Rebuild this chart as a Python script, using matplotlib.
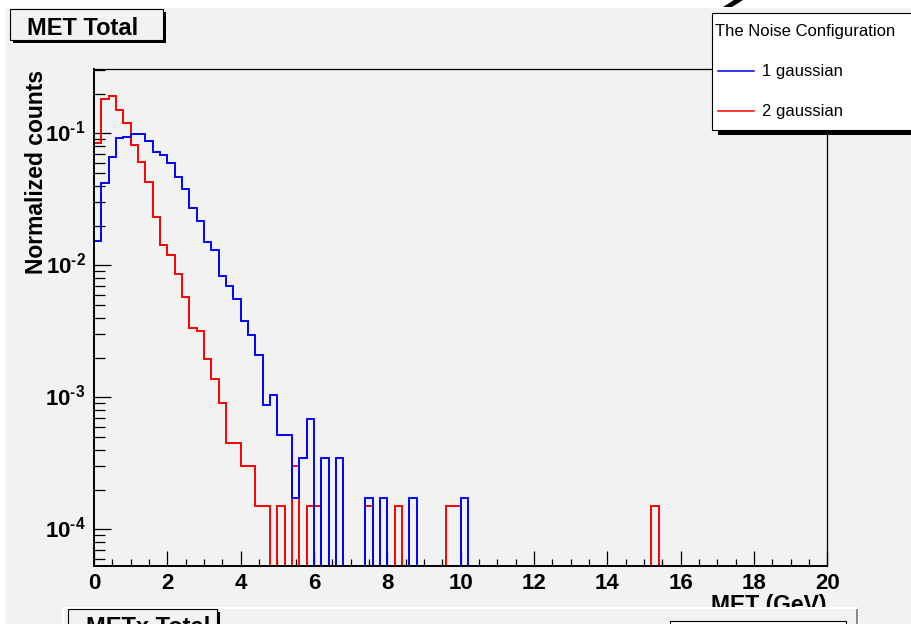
import numpy as np
import matplotlib
matplotlib.use('Agg')
import matplotlib.pyplot as plt
from matplotlib.patches import Rectangle, Polygon
from matplotlib.lines import Line2D
from matplotlib.ticker import MultipleLocator, LogLocator, NullFormatter

plt.rcParams['font.family'] = ['Liberation Sans', 'DejaVu Sans']
plt.rcParams['font.weight'] = 'bold'
plt.rcParams['mathtext.fontset'] = 'custom'
plt.rcParams['mathtext.rm'] = 'Liberation Sans:bold'
plt.rcParams['mathtext.it'] = 'Liberation Sans:bold'
plt.rcParams['mathtext.bf'] = 'Liberation Sans:bold'

# MET spectrum, 100 bins of 0.2 GeV, normalised to unit area
met_edges = np.linspace(0, 20, 101)

one_gaussian = [
    0.0154, 0.0419, 0.0666, 0.0917, 0.0942, 0.0993, 0.0993, 0.0875, 0.0718, 0.0686,
    0.0597, 0.0470, 0.0378, 0.0274, 0.0215, 0.0149, 0.0130, 0.00826, 0.00694, 0.00560,
    0.00378, 0.00296, 0.00209, 8.7e-4, 1.04e-3, 5.2e-4, 5.2e-4, 1.73e-4, 3.47e-4, 6.9e-4,
    0, 3.47e-4, 0, 3.47e-4, 0, 0, 0, 1.73e-4, 0, 1.73e-4,
    0, 0, 0, 1.73e-4, 0, 0, 0, 0, 0, 0,
    1.73e-4] + [0.0] * 49

two_gaussian = [
    0.084, 0.1815, 0.192, 0.149, 0.120, 0.0817, 0.061, 0.0427, 0.0234, 0.01416,
    0.01198, 0.00861, 0.00577, 0.00333, 0.00318, 0.00196, 0.00137, 0.00090, 4.5e-4, 4.5e-4,
    3.0e-4, 3.0e-4, 1.5e-4, 1.5e-4, 0, 1.5e-4, 0, 3.0e-4, 0, 1.5e-4,
    1.5e-4, 0, 0, 0, 0, 0, 0, 1.5e-4, 0, 0,
    0, 1.5e-4, 0, 0, 0, 0, 0, 0, 1.5e-4, 1.5e-4,
    ] + [0.0] * 26 + [1.5e-4] + [0.0] * 23

series_names = ['1 gaussian', '2 gaussian']
series_colors = ['#0000ff', '#ff0000']
y_tick_values = [1e-4, 1e-3, 1e-2, 1e-1]
y_tick_labels = [r'$10^{\text{-4}}$', r'$10^{\text{-3}}$', r'$10^{\text{-2}}$', r'$10^{\text{-1}}$']

W, H = 912, 624
PAD_GRAY = '#f2f2f2'


def fx(px):
    return px / W


def fy(py):
    return 1 - py / H


def box(x0, y0, x1, y1, **kw):
    # rectangle given in pixel coords, origin top-left
    r = Rectangle((fx(x0), fy(y1)), (x1 - x0) / W, (y1 - y0) / H,
                  transform=fig.transFigure, **kw)
    fig.add_artist(r)
    return r


def main():
    global fig
    fig = plt.figure(figsize=(W / 100, H / 100), dpi=100, facecolor='white')

    # canvas pad
    box(5, 8, 940, 660, facecolor=PAD_GRAY, edgecolor='none', zorder=-2)
    fig.add_artist(Polygon([(fx(734), fy(0)), (fx(743), fy(0)), (fx(732), fy(7)), (fx(723), fy(7))],
                           closed=True, transform=fig.transFigure, facecolor='black',
                           edgecolor='none', zorder=-3))

    ax = fig.add_axes([fx(94), fy(566), (827.4 - 94) / W, (566 - 69) / H])
    ax.set_facecolor(PAD_GRAY)

    def floor(v):
        v = np.asarray(v, dtype=float)
        return np.where(v > 0, v, 1e-9)

    ax.stairs(floor(two_gaussian), met_edges, baseline=None, color=series_colors[1], lw=1.4, zorder=2)
    ax.stairs(floor(one_gaussian), met_edges, baseline=None, color=series_colors[0], lw=1.4, zorder=2.1)

    ax.set_yscale('log')
    ax.set_xlim(0, 20)
    ax.set_ylim(5.27e-5, 0.307)

    ax.xaxis.set_major_locator(MultipleLocator(2))
    ax.xaxis.set_minor_locator(MultipleLocator(0.5))
    ax.set_yticks(y_tick_values)
    ax.set_yticklabels(y_tick_labels)
    ax.yaxis.set_minor_locator(LogLocator(base=10, subs=np.arange(2, 10)))
    ax.yaxis.set_minor_formatter(NullFormatter())

    ax.tick_params(axis='x', which='major', direction='in', length=11, width=0.9,
                   labelsize=16, pad=5, top=False)
    ax.tick_params(axis='x', which='minor', direction='in', length=5, width=0.9, top=False)
    ax.tick_params(axis='y', which='major', direction='in', length=12, width=0.9,
                   labelsize=16, pad=6, right=False)
    ax.tick_params(axis='y', which='minor', direction='in', length=8, width=0.9, right=False)
    for lbl in ax.get_yticklabels():
        lbl.set_verticalalignment('center')

    for side in ['left', 'bottom']:
        ax.spines[side].set_linewidth(1.4)
    for side in ['top', 'right']:
        ax.spines[side].set_linewidth(0.9)

    fig.text(fx(36.5), fy(70), 'Normalized counts', rotation=90, ha='center', va='top',
             fontsize=16.5, fontweight='bold')
    fig.text(fx(827), fy(612), 'MET (GeV)', ha='right', va='baseline',
             fontsize=16.5, fontweight='bold')

    # title box with shadow
    box(13, 12, 166, 43, facecolor='black', edgecolor='none', zorder=3)
    box(10, 9, 163, 40, facecolor=PAD_GRAY, edgecolor='black', lw=0.8, zorder=3.1)
    fig.text(fx(27), fy(35), 'MET Total', ha='left', va='baseline', fontsize=17,
             fontweight='bold', zorder=4)

    # legend
    box(718, 18, 960, 135, facecolor='black', edgecolor='none', zorder=3)
    box(711.7, 13.3, 960, 130, facecolor='white', edgecolor='black', lw=0.8, zorder=3.1)
    fig.text(fx(715), fy(36), 'The Noise Configuration', ha='left', va='baseline',
             fontsize=12, fontweight='normal', zorder=4)
    for i, (name, color) in enumerate(zip(series_names, series_colors)):
        yline = 70.5 + 40 * i
        fig.add_artist(Line2D([fx(718), fx(754)], [fy(yline), fy(yline)], color=color, lw=1.1,
                              transform=fig.transFigure, zorder=4))
        fig.text(fx(762), fy(yline + 5.5), name, ha='left', va='baseline', fontsize=12,
                 fontweight='normal', zorder=4)

    # next pad below
    box(62, 606.5, 859, 660, facecolor='white', edgecolor='none', zorder=5)
    box(64, 608.5, 856, 660, facecolor=PAD_GRAY, edgecolor='none', zorder=5.1)
    box(856, 608.5, 858.5, 660, facecolor='#8a8a8a', edgecolor='none', zorder=5.1)
    box(70.5, 611.5, 219.5, 660, facecolor='black', edgecolor='none', zorder=6)
    box(68.3, 609.3, 217.3, 660, facecolor=PAD_GRAY, edgecolor='black', lw=0.8, zorder=6.1)
    fig.text(fx(86), fy(633.5), 'METx Total', ha='left', va='baseline', fontsize=17,
             fontweight='bold', zorder=6.2)
    box(670, 621, 846, 660, facecolor='white', edgecolor='black', lw=0.8, zorder=6)

    fig.savefig('out.png', dpi=100)


if __name__ == '__main__':
    main()
